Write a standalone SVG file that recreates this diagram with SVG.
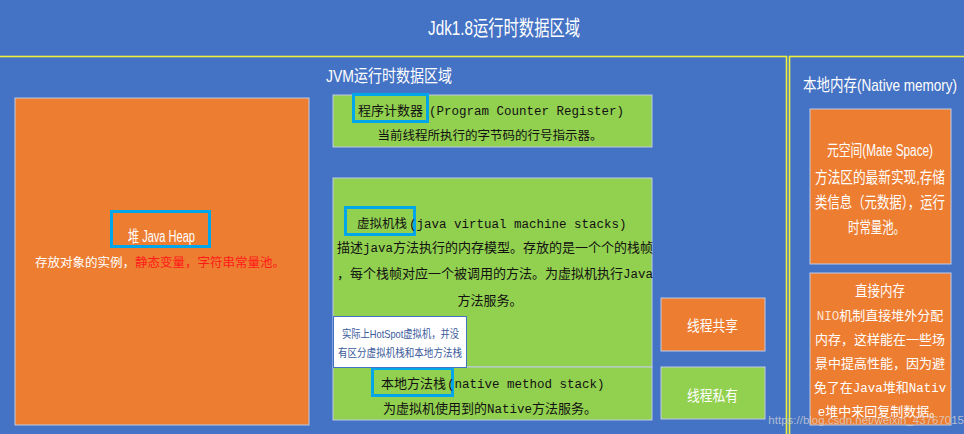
<svg xmlns="http://www.w3.org/2000/svg" width="964" height="434" viewBox="0 0 964 434">
<style>
.cond{font-family:"Liberation Sans Narrow","Liberation Sans","Noto Sans CJK SC",sans-serif}
.cjk{font-family:"Noto Sans CJK SC","Liberation Sans",sans-serif}
.mono{font-family:"Liberation Mono","Noto Sans CJK SC",monospace}
.w{fill:#ffffff}
.k{fill:#111111}
.region{fill:none;stroke:#EEF03A;stroke-width:1.6}
.orange{fill:#ED7D31;stroke:#BFCBE6;stroke-width:1}
.green{fill:#92D050;stroke:#BFCBE6;stroke-width:1}
.hl{fill:none;stroke:#00A6EA;stroke-width:3}
</style>
<rect x="0" y="0" width="964" height="434" fill="#4472C4"/>
<g id="title">
<text class="cond w" x="428" y="35" font-size="21" textLength="152" lengthAdjust="spacingAndGlyphs">Jdk1.8运行时数据区域</text>
</g>
<g id="jvm-region">
<rect class="region" x="-2" y="56.5" width="788.5" height="380"/>
<text class="cond w" x="326" y="82" font-size="17" textLength="126" lengthAdjust="spacingAndGlyphs">JVM运行时数据区域</text>
</g>
<g id="native-region">
<rect class="region" x="789.5" y="56.5" width="178" height="380"/>
<text class="cond w" x="803" y="91" font-size="17" textLength="154" lengthAdjust="spacingAndGlyphs">本地内存(Native memory)</text>
</g>
<g id="heap">
<rect class="orange" x="15" y="98" width="294" height="327"/>
<rect class="hl" x="111.5" y="211.5" width="98" height="35"/>
<text class="cond w" x="128" y="242" font-size="16" textLength="67" lengthAdjust="spacingAndGlyphs">堆 Java Heap</text>
<text class="cjk" x="35" y="267" font-size="12.5"><tspan fill="#ffffff">存放对象的实例，</tspan><tspan fill="#FF1A1A">静态变量，字符串常量池。</tspan></text>
</g>
<g id="pc-register">
<rect class="green" x="333" y="95" width="319" height="52"/>
<rect class="hl" x="353.5" y="94.5" width="74" height="27"/>
<text class="cjk k" x="358" y="115" font-size="13">程序计数器</text>
<text class="mono k" x="429" y="115" font-size="12.5">(Program Counter Register)</text>
<text class="cjk k" x="490" y="140" font-size="12.5" text-anchor="middle">当前线程所执行的字节码的行号指示器。</text>
</g>
<g id="vm-stack">
<rect class="green" x="333" y="178" width="319" height="189"/>
<rect class="hl" x="345.5" y="207.5" width="69" height="27"/>
<text class="cjk k" x="357" y="228" font-size="12.5">虚拟机栈</text>
<text class="mono k" x="409" y="228" font-size="12.5">(java virtual machine stacks)</text>
<text class="k" x="337" y="252" font-size="13"><tspan class="cjk">描述</tspan><tspan class="mono" font-size="12.5">java</tspan><tspan class="cjk">方法执行的内存模型。存放的是一个个的栈帧</tspan></text>
<text class="k" x="337" y="278" font-size="13"><tspan class="cjk">，每个栈帧对应一个被调用的方法。为虚拟机执行</tspan><tspan class="mono" font-size="12.5">Java</tspan></text>
<text class="cjk k" x="490" y="305" font-size="13" text-anchor="middle">方法服务。</text>
</g>
<g id="native-method-stack">
<rect class="green" x="333" y="367" width="319" height="53"/>
<rect class="hl" x="372.5" y="368.5" width="80" height="27"/>
<text class="cjk k" x="381" y="388" font-size="13">本地方法栈</text>
<text class="mono k" x="447" y="388" font-size="12.5">(native method stack)</text>
<text class="k" x="490" y="413" font-size="13" text-anchor="middle"><tspan class="cjk">为虚拟机使用到的</tspan><tspan class="mono" font-size="12.5">Native</tspan><tspan class="cjk">方法服务。</tspan></text>
</g>
<g id="hotspot-note">
<rect x="333.5" y="316.5" width="133" height="51" fill="#FFFFFF" stroke="#4472C4" stroke-width="1"/>
<text class="cond" x="342" y="338" font-size="11.5" fill="#3A5A9A" textLength="117" lengthAdjust="spacingAndGlyphs">实际上HotSpot虚拟机，并没</text>
<text class="cond" x="338" y="357" font-size="11.5" fill="#3A5A9A" textLength="124" lengthAdjust="spacingAndGlyphs">有区分虚拟机栈和本地方法栈</text>
</g>
<g id="legend-shared">
<rect class="orange" x="661" y="298" width="104" height="53"/>
<text class="cond w" x="687" y="331" font-size="15" textLength="51" lengthAdjust="spacingAndGlyphs">线程共享</text>
</g>
<g id="legend-private">
<rect class="green" x="661" y="367" width="104" height="52"/>
<text class="cond w" x="687" y="401" font-size="15" textLength="51" lengthAdjust="spacingAndGlyphs">线程私有</text>
</g>
<g id="metaspace">
<rect class="orange" x="810" y="109" width="141" height="155"/>
<text class="cond w" x="827" y="156" font-size="16" textLength="106" lengthAdjust="spacingAndGlyphs">元空间(Mate Space)</text>
<text class="cond w" x="815" y="183" font-size="16" textLength="130" lengthAdjust="spacingAndGlyphs">方法区的最新实现,存储</text>
<text class="cond w" x="815" y="208" font-size="16" textLength="130" lengthAdjust="spacingAndGlyphs">类信息（元数据），运行</text>
<text class="cond w" x="848" y="233" font-size="16" textLength="57" lengthAdjust="spacingAndGlyphs">时常量池。</text>
</g>
<g id="direct-memory">
<rect class="orange" x="810" y="273" width="141" height="152"/>
<text class="cond w" x="855" y="296" font-size="15" textLength="50" lengthAdjust="spacingAndGlyphs">直接内存</text>
<text class="w" x="880" y="320" font-size="13" text-anchor="middle"><tspan class="mono" font-size="12.5" fill="#FBE3D2">NIO</tspan><tspan class="cjk">机制直接堆外分配</tspan></text>
<text class="cjk w" x="880" y="344" font-size="13" text-anchor="middle">内存，这样能在一些场</text>
<text class="cjk w" x="880" y="368" font-size="13" text-anchor="middle">景中提高性能，因为避</text>
<text class="w" x="880" y="392" font-size="13" text-anchor="middle"><tspan class="cjk">免了在</tspan><tspan class="mono" font-size="12.5">Java</tspan><tspan class="cjk">堆和</tspan><tspan class="mono" font-size="12.5">Nativ</tspan></text>
<text class="w" x="880" y="416" font-size="13" text-anchor="middle"><tspan class="mono" font-size="12.5">e</tspan><tspan class="cjk">堆中来回复制数据。</tspan></text>
</g>
<g id="connectors"/>
<g id="watermark">
<text font-family="Liberation Sans, sans-serif" x="964" y="424" font-size="11.5" text-anchor="end" fill="#D8D8D8" fill-opacity="0.75">https://blog.csdn.net/weixin_43767015</text>
</g>
</svg>
